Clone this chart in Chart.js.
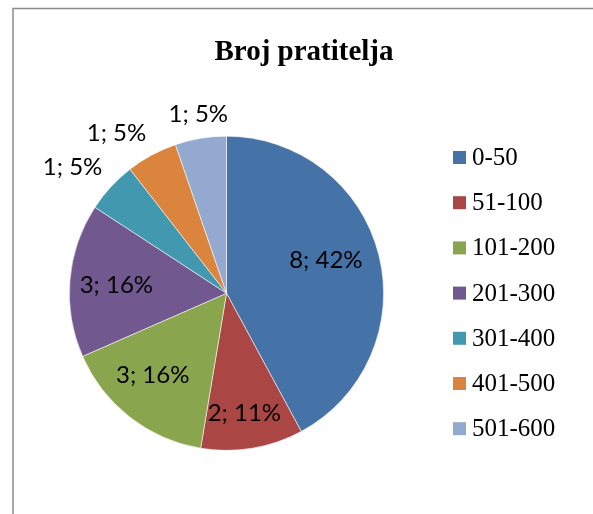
<!DOCTYPE html>
<html>
<head>
<meta charset="utf-8">
<script src="https://cdn.jsdelivr.net/npm/chart.js@4/dist/chart.umd.min.js"></script>
<style>
html,body{margin:0;padding:0;background:#fff;}
#wrap{width:593px;height:514px;position:relative;}
</style>
</head>
<body>
<div id="wrap"><canvas id="c" width="593" height="514"></canvas></div>
<script>
const title = "Broj pratitelja";
const categories = ["0-50", "51-100", "101-200", "201-300", "301-400", "401-500", "501-600"];
const values = [8, 2, 3, 3, 1, 1, 1];
const colors = ["#4572A7", "#AA4643", "#89A54E", "#71588F", "#4198AF", "#DB843D", "#93A9CF"];

// label placement style: fraction of radius for inside labels (null = outside), small angle tweak in degrees
const labelRadius = [0.666, 0.78, 0.705, 0.70, null, null, null];
const labelAngleTweak = [-3.3, 0.9, 3.6, -1.3, 0, 0, 0];

const total = values.reduce((a, b) => a + b, 0);

function drawCentered(ctx, txt, cx, cy) {
  const m = ctx.measureText(txt);
  const l = m.actualBoundingBoxLeft, r = m.actualBoundingBoxRight;
  const a = m.actualBoundingBoxAscent, d = m.actualBoundingBoxDescent;
  ctx.fillText(txt, cx - (r - l) / 2, cy - (d - a) / 2);
}

const deco = {
  id: 'deco',
  beforeDraw(chart) {
    const ctx = chart.ctx;
    ctx.save();
    ctx.fillStyle = '#fff';
    ctx.fillRect(0, 0, chart.width, chart.height);
    ctx.strokeStyle = '#8a8a8a';
    ctx.lineWidth = 1.5;
    ctx.strokeRect(13, 8.5, 700, 700);
    ctx.restore();
  },
  afterDraw(chart) {
    const ctx = chart.ctx;
    ctx.save();
    // title
    ctx.fillStyle = '#000';
    ctx.font = 'bold 29px "Liberation Serif", "Times New Roman", serif';
    ctx.textAlign = 'center';
    ctx.textBaseline = 'alphabetic';
    ctx.fillText(title, 304, 60);
    // legend
    ctx.font = '25px "Liberation Serif", "Times New Roman", serif';
    ctx.textAlign = 'left';
    ctx.textBaseline = 'middle';
    categories.forEach((c, i) => {
      const y = 157.5 + i * 45.2;
      ctx.fillStyle = colors[i];
      ctx.fillRect(453, y - 6.5, 13, 13);
      ctx.fillStyle = '#000';
      ctx.fillText(c, 472, y + 1);
    });
    // data labels
    const meta = chart.getDatasetMeta(0);
    ctx.font = '24px Lato, "Open Sans", sans-serif';
    ctx.textAlign = 'left';
    ctx.textBaseline = 'alphabetic';
    ctx.fillStyle = '#000';
    meta.data.forEach((arc, i) => {
      const p = arc.getProps(['x', 'y', 'startAngle', 'endAngle', 'outerRadius'], true);
      const mid = (p.startAngle + p.endAngle) / 2 + labelAngleTweak[i] * Math.PI / 180;
      const txt = values[i] + '; ' + Math.round(values[i] / total * 100) + '%';
      const m = ctx.measureText(txt);
      const w = m.actualBoundingBoxRight + m.actualBoundingBoxLeft;
      const h = m.actualBoundingBoxAscent + m.actualBoundingBoxDescent;
      let cx, cy;
      if (labelRadius[i] !== null) {
        const d = p.outerRadius * labelRadius[i];
        cx = p.x + Math.cos(mid) * d;
        cy = p.y + Math.sin(mid) * d;
      } else {
        const gap = 12;
        const ax = p.x + Math.cos(mid) * (p.outerRadius + gap);
        const ay = p.y + Math.sin(mid) * (p.outerRadius + gap);
        const c = Math.cos(mid), s = Math.sin(mid);
        const th = 0.26;
        const fx = Math.abs(c) < th ? 0 : Math.sign(c);
        const fy = Math.abs(s) < th ? 0 : Math.sign(s);
        cx = ax + fx * w / 2;
        cy = ay + fy * h / 2;
      }
      drawCentered(ctx, txt, cx, cy);
    });
    ctx.restore();
  }
};

new Chart(document.getElementById('c'), {
  type: 'pie',
  data: {
    labels: categories,
    datasets: [{
      data: values,
      backgroundColor: colors,
      borderColor: 'rgba(255,255,255,0.7)',
      borderWidth: 0.8
    }]
  },
  options: {
    responsive: false,
    animation: false,
    layout: { padding: { left: 69, top: 135.5, right: 209, bottom: 63 } },
    plugins: {
      legend: { display: false },
      title: { display: false },
      tooltip: { enabled: false }
    }
  },
  plugins: [deco]
});
</script>
</body>
</html>
